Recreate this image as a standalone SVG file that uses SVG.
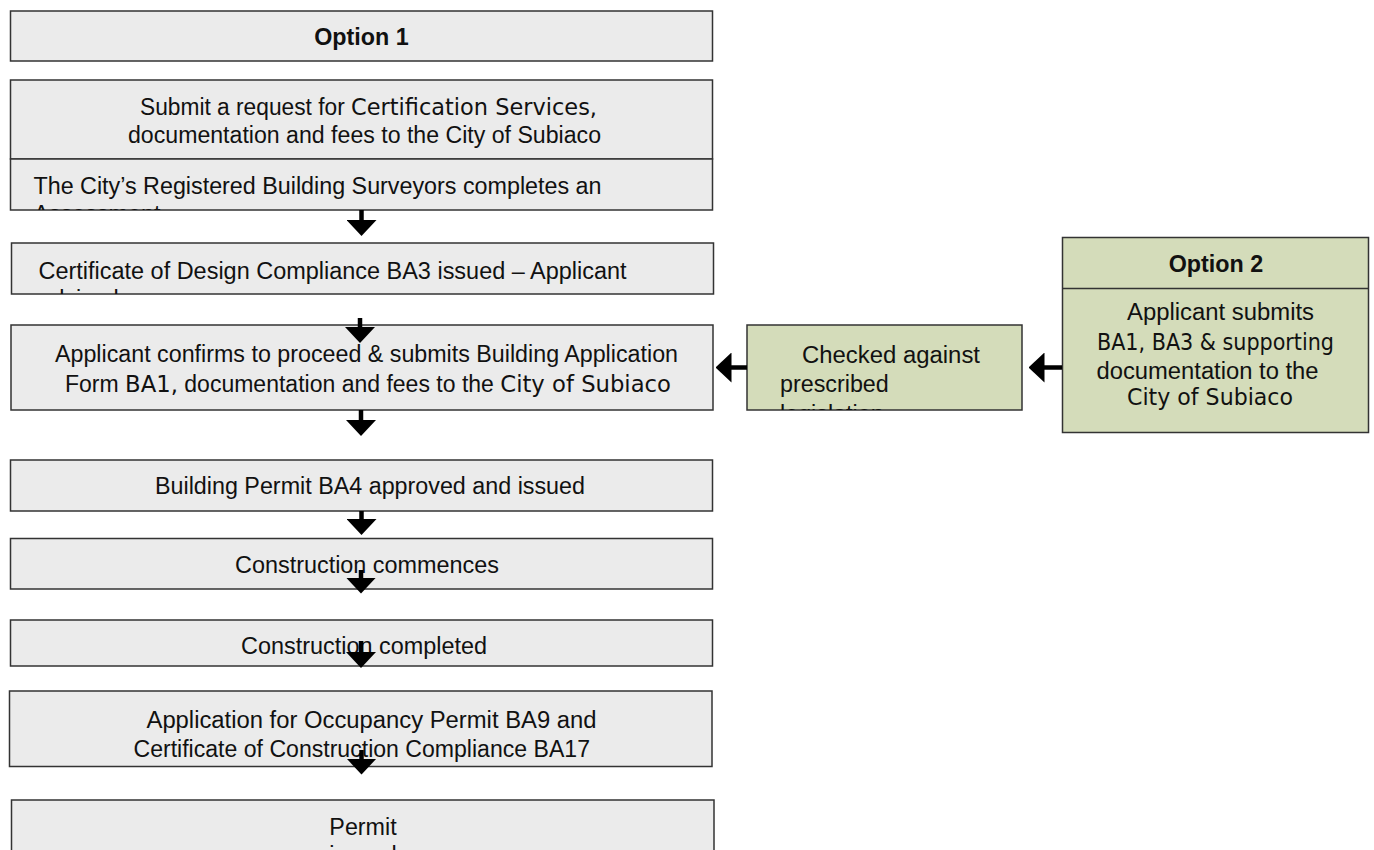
<svg xmlns="http://www.w3.org/2000/svg" width="1374" height="850" viewBox="0 0 1374 850">
<style>
.box{fill:#ebebeb;stroke:#333;stroke-width:1.5}
.gbox{fill:#d4dcba;stroke:#333;stroke-width:1.5}
.t{font-family:"Liberation Sans",Arial,sans-serif;font-size:23.3px;fill:#111}
.b{font-weight:bold}
.alt{font-family:"DejaVu Sans","Noto Sans",sans-serif;font-size:23px}
.conn{stroke:#000;stroke-width:4.5;fill:none}
</style>
<defs>
<marker id="ah" viewBox="0 0 16 30" refX="0.5" refY="15" markerWidth="16" markerHeight="30" markerUnits="userSpaceOnUse" orient="auto">
<path d="M0,0 L16,15 L0,30 z" fill="#000"/>
</marker>
<clipPath id="c3"><rect x="10.5" y="159" width="702" height="51"/></clipPath>
<clipPath id="c4"><rect x="11.5" y="243" width="702" height="51"/></clipPath>
<clipPath id="cchk"><rect x="747" y="325" width="275" height="85"/></clipPath>
</defs>

<g id="option1">
<rect class="box" x="10.5" y="11" width="702" height="50"/>
<text class="t b" x="361.5" y="44.5" text-anchor="middle">Option 1</text>
</g>

<g id="submit-request">
<rect class="box" x="10.5" y="80" width="702" height="79"/>
<text class="t" x="140" y="115" textLength="457" lengthAdjust="spacingAndGlyphs">Submit a request for <tspan class="alt">Certification Services,</tspan></text>
<text class="t" x="128" y="143" textLength="473" lengthAdjust="spacingAndGlyphs">documentation and fees to the City of Subiaco</text>
</g>

<g id="surveyor-assessment">
<rect class="box" x="10.5" y="159" width="702" height="51"/>
<g clip-path="url(#c3)">
<text class="t" x="33.5" y="194" textLength="568" lengthAdjust="spacingAndGlyphs">The City’s Registered Building Surveyors completes an</text>
<text class="t" x="33.5" y="222">Assessment</text>
</g>
</g>

<g id="design-compliance">
<rect class="box" x="11.5" y="243" width="702" height="51"/>
<g clip-path="url(#c4)">
<text class="t" x="38.5" y="278.5" textLength="588" lengthAdjust="spacingAndGlyphs">Certificate of Design Compliance BA3 issued – Applicant</text>
<text class="t" x="38.5" y="306.5">advised</text>
</g>
</g>

<g id="applicant-confirms">
<rect class="box" x="11" y="325" width="702" height="85"/>
<text class="t" x="55" y="361.5" textLength="623" lengthAdjust="spacingAndGlyphs">Applicant confirms to proceed &amp; submits Building Application</text>
<text class="t" x="65" y="392" textLength="606" lengthAdjust="spacingAndGlyphs">Form <tspan class="alt">BA1,</tspan> documentation and fees to the <tspan class="alt">City of Subiaco</tspan></text>
</g>

<g id="building-permit">
<rect class="box" x="10.5" y="460" width="702" height="51"/>
<text class="t" x="155" y="494" textLength="430" lengthAdjust="spacingAndGlyphs">Building Permit BA4 approved and issued</text>
</g>

<g id="construction-commences">
<rect class="box" x="10.5" y="538.5" width="702" height="50.5"/>
<text class="t" x="235" y="573" textLength="264" lengthAdjust="spacingAndGlyphs">Construction commences</text>
</g>

<g id="construction-completed">
<rect class="box" x="10.5" y="620" width="702" height="46"/>
<text class="t" x="241" y="654" textLength="246" lengthAdjust="spacingAndGlyphs">Construction completed</text>
</g>

<g id="occupancy-application">
<rect class="box" x="9.5" y="691" width="702.5" height="75.5"/>
<text class="t" x="146.5" y="728" textLength="450" lengthAdjust="spacingAndGlyphs">Application for Occupancy Permit BA9 and</text>
<text class="t" x="133.5" y="756.5" textLength="456.5" lengthAdjust="spacingAndGlyphs">Certificate of Construction Compliance BA17</text>
</g>

<g id="permit-issued">
<rect class="box" x="11.5" y="800" width="702.5" height="80"/>
<text class="t" x="363" y="835" text-anchor="middle">Permit</text>
<text class="t" x="363" y="863" text-anchor="middle">issued</text>
</g>

<g id="checked-legislation">
<rect class="gbox" x="747" y="325" width="275" height="85"/>
<g clip-path="url(#cchk)">
<text class="t" x="802" y="362.5" textLength="178" lengthAdjust="spacingAndGlyphs">Checked against</text>
<text class="t" x="780" y="392">prescribed</text>
<text class="t" x="780" y="421.5">legislation</text>
</g>
</g>

<g id="option2">
<rect class="gbox" x="1062.5" y="237.5" width="306" height="195"/>
<line x1="1062.5" y1="288.5" x2="1368.5" y2="288.5" stroke="#333" stroke-width="1.5"/>
<text class="t b" x="1216" y="271.5" text-anchor="middle">Option 2</text>
<text class="t" x="1127" y="320" textLength="187" lengthAdjust="spacingAndGlyphs">Applicant submits</text>
<text class="t alt" x="1097" y="349.5" textLength="237" lengthAdjust="spacingAndGlyphs">BA1, BA3 &amp; supporting</text>
<text class="t" x="1096.5" y="378.5" textLength="222" lengthAdjust="spacingAndGlyphs">documentation to the</text>
<text class="t alt" x="1127" y="404.5" textLength="166" lengthAdjust="spacingAndGlyphs">City of Subiaco</text>
</g>

<g id="connectors">
<line class="conn" x1="361.5" y1="210" x2="361.5" y2="220.5" marker-end="url(#ah)"/>
<line class="conn" x1="360" y1="318" x2="360" y2="327.5" marker-end="url(#ah)"/>
<line class="conn" x1="361" y1="410" x2="361" y2="420.5" marker-end="url(#ah)"/>
<line class="conn" x1="361.5" y1="511" x2="361.5" y2="519.5" marker-end="url(#ah)"/>
<line class="conn" x1="361" y1="570" x2="361" y2="578" marker-end="url(#ah)"/>
<line class="conn" x1="361" y1="641" x2="361" y2="652.5" marker-end="url(#ah)"/>
<line class="conn" x1="361.5" y1="750" x2="361.5" y2="759" marker-end="url(#ah)"/>
<line class="conn" x1="747" y1="367.5" x2="731" y2="367.5" marker-end="url(#ah)"/>
<line class="conn" x1="1062" y1="367.5" x2="1044" y2="367.5" marker-end="url(#ah)"/>
</g>
</svg>
